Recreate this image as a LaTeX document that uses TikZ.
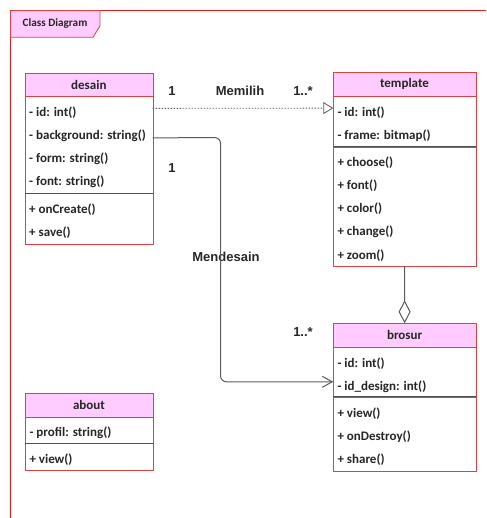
\documentclass[tikz,border=0pt]{standalone}
\usepackage{fontspec}
\setmainfont{Carlito}
\newfontfamily\lblfont{Liberation Sans}
\usepackage{xcolor}
\usepackage{tikz}
\usetikzlibrary{arrows.meta}
\usetikzlibrary{calc}
\usetikzlibrary{positioning}

\definecolor{hdrpink}{HTML}{FFCCFF}
\definecolor{boxred}{HTML}{E04040}
\definecolor{framered}{HTML}{E61E1E}
\definecolor{sepgray}{HTML}{505050}
\definecolor{linegray}{HTML}{5A5A5A}
\definecolor{txtdark}{HTML}{262626}

\begin{document}
\begin{tikzpicture}[
    x=1pt, y=-1pt,
    hdr/.style={draw=boxred, fill=hdrpink, inner sep=0pt, outer sep=0pt, minimum height=23.4pt,
      font=\fontsize{13}{15}\selectfont\bfseries, text=txtdark},
    cmp/.style={draw=boxred, fill=white, inner sep=0pt, outer sep=0pt},
    member/.style={anchor=west, inner sep=0pt, text height=9pt, text depth=3pt,
      font=\fontsize{13}{15}\selectfont\bfseries, text=txtdark},
    lbl/.style={font=\lblfont\bfseries\fontsize{13}{15}\selectfont, text=txtdark, inner sep=1pt},
    sep/.style={draw=sepgray, line width=0.8pt},
    realize/.style={draw=linegray, line width=0.8pt, dash pattern=on 1.5pt off 1.5pt,
      -{Triangle[open, length=10pt, width=12pt, fill=white]}},
    assoc/.style={draw=linegray, line width=1pt, rounded corners=6pt,
      -{Straight Barb[length=10pt, width=11pt]}},
    aggr/.style={draw=linegray, line width=1pt,
      {Diamond[open, length=23pt, width=12pt, fill=white]}-},
  ]

  \useasboundingbox (0,0) rectangle (486,518);

  % frame
  \draw [framered, line width=1.1pt] (10.5,518) -- (10.5,10.5) -- (486,10.5);
  \draw [boxred, fill=hdrpink, line width=0.8pt]
    (10.5,10.5) -- (100,10.5) -- (100,26) -- (93,37.3) -- (10.5,37.3) -- cycle;
  \node [font=\fontsize{11.2}{13}\selectfont\bfseries, text=txtdark] (title) at (55,23.5) {Class Diagram};

  % desain
  \node [hdr, minimum width=127.7pt, anchor=north west] (desain) at (25,73) {desain};
  \node [cmp, minimum width=127.7pt, minimum height=96.7pt, below=0pt of desain] (desain-a) {};
  \node [cmp, minimum width=127.7pt, minimum height=50.6pt, below=0pt of desain-a] (desain-m) {};
  \draw [sep] (desain-m.north west) -- (desain-m.north east);
  \foreach \t [count=\i] in {- id: int(), - background: string(), - form: string(), - font: string()}
    \node [member] at ($(desain-a.north west)+(4,{17+23.2*(\i-1)})$) {\t};
  \foreach \t [count=\i] in {+ onCreate(), + save()}
    \node [member] at ($(desain-m.north west)+(4,{17+23.2*(\i-1)})$) {\t};

  % template
  \node [hdr, minimum width=142.4pt, anchor=north west] (template) at (333.3,72.7) {template};
  \node [cmp, minimum width=142.4pt, minimum height=50.7pt, below=0pt of template] (template-a) {};
  \node [cmp, minimum width=142.4pt, minimum height=119.3pt, below=0pt of template-a] (template-m) {};
  \draw [sep] (template-m.north west) -- (template-m.north east);
  \foreach \t [count=\i] in {- id: int(), - frame: bitmap()}
    \node [member] at ($(template-a.north west)+(4,{17+23.2*(\i-1)})$) {\t};
  \foreach \t [count=\i] in {+ choose(), + font(), + color(), + change(), + zoom()}
    \node [member] at ($(template-m.north west)+(4,{16.5+23.2*(\i-1)})$) {\t};

  % brosur
  \node [hdr, minimum width=142.7pt, minimum height=24pt, anchor=north west] (brosur) at (333.3,323.3) {brosur};
  \node [cmp, minimum width=142.7pt, minimum height=49.4pt, below=0pt of brosur] (brosur-a) {};
  \node [cmp, minimum width=142.7pt, minimum height=74pt, below=0pt of brosur-a] (brosur-m) {};
  \draw [sep] (brosur-m.north west) -- (brosur-m.north east);
  \foreach \t [count=\i] in {- id: int(), - id\_design: int()}
    \node [member] at ($(brosur-a.north west)+(4,{16.7+23.2*(\i-1)})$) {\t};
  \foreach \t [count=\i] in {+ view(), + onDestroy(), + share()}
    \node [member] at ($(brosur-m.north west)+(4,{17.3+23.2*(\i-1)})$) {\t};

  % about
  \node [hdr, minimum width=127.4pt, anchor=north west] (about) at (25.3,393.3) {about};
  \node [cmp, minimum width=127.4pt, minimum height=26.6pt, below=0pt of about] (about-a) {};
  \node [cmp, minimum width=127.4pt, minimum height=26.7pt, below=0pt of about-a] (about-m) {};
  \draw [sep] (about-m.north west) -- (about-m.north east);
  \node [member] at ($(about-a.north west)+(4,16.7)$) {- profil: string()};
  \node [member] at ($(about-m.north west)+(4,16.7)$) {+ view()};

  % labels
  \node [lbl] (memilih-src) at (172,91) {1};
  \node [lbl] (memilih) at (240,91) {Memilih};
  \node [lbl] (memilih-dst) at (303,91) {1..*};
  \node [lbl] (mendesain-src) at (172,168.5) {1};
  \node [lbl] (mendesain) at (226,257) {Mendesain};
  \node [lbl] (mendesain-dst) at (303,332) {1..*};

  % relations
  \draw [realize] ([yshift=-12pt]desain-a.north east) -- ([yshift=-12pt]template-a.north west);
  \coordinate (bend) at (220.5,137.5);
  \draw [assoc] ([yshift=-41.5pt]desain-a.north east) -- (bend) |- ([yshift=-34.5pt]brosur-a.north west);
  \draw [aggr] (brosur.north) -- (template-m.south);

\end{tikzpicture}
\end{document}
